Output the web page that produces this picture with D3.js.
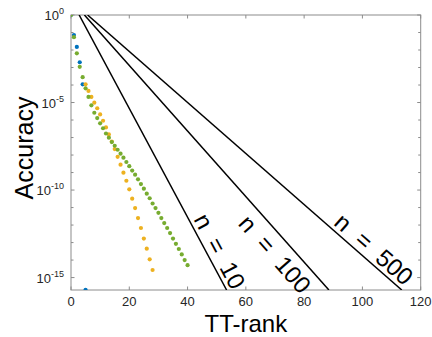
<!DOCTYPE html>
<html>
<head>
<meta charset="utf-8">
<script src="https://cdn.jsdelivr.net/npm/d3@7"></script>
<style>
  body { margin: 0; background: #fff; }
  text { font-family: "Liberation Sans", Arial, sans-serif; }
</style>
</head>
<body>
<div class="chart"></div>
<script>
// measured points (rank, accuracy)
var ranksBlue = [0, 1, 2, 3, 4, 5];
var accBlue = [1, 7.1e-2, 1.5e-2, 2.0e-3, 1.1e-4, 2e-16];

var ranksOrange = [5, 6, 7, 8, 9, 10, 11, 12, 13, 14, 15, 16, 17, 18, 19, 20, 21, 22, 23, 24, 25, 26, 27, 28];
var accOrange = [1.1e-4, 4.6e-5, 2.1e-5, 9.8e-6, 4.7e-6, 2.1e-6, 9.1e-7, 3.8e-7, 1.5e-7, 5.9e-8,
                 2.2e-8, 7.9e-9, 2.8e-9, 9.8e-10, 3.4e-10, 1.1e-10, 3.2e-11, 9.3e-12, 2.5e-12, 6.8e-13,
                 1.7e-13, 4.5e-14, 1.1e-14, 2.7e-15];

var ranksGreen = [0, 1, 2, 3, 4, 5, 6, 7, 8, 9, 10, 11, 12, 13, 14, 15, 16, 17, 18, 19, 20,
                  21, 22, 23, 24, 25, 26, 27, 28, 29, 30, 31, 32, 33, 34, 35, 36, 37, 38, 39, 40];
var accGreen = [1, 5.4e-2, 6.5e-3, 1.1e-3, 2.8e-4, 6.5e-5, 2.1e-5, 6.9e-6, 2.6e-6, 1.3e-6, 6.5e-7,
                3.4e-7, 1.7e-7, 9.8e-8, 5.5e-8, 3.4e-8, 2.0e-8, 1.2e-8, 7.1e-9, 4.0e-9, 2.3e-9,
                1.3e-9, 7.6e-10, 4.1e-10, 2.2e-10, 1.2e-10, 6.2e-11, 3.4e-11, 1.7e-11, 9.3e-12, 5.0e-12,
                2.5e-12, 1.3e-12, 6.8e-13, 3.5e-13, 1.7e-13, 8.5e-14, 4.3e-14, 2.1e-14, 1.0e-14, 5.1e-15];

// bound lines: rank where they leave 1 and rank where they hit the axis floor
var boundNames = ["10", "100", "500"];
var boundStart = [2.8, 4.6, 5.7];
var boundEnd = [53.4, 88.5, 113.5];
// label centre (rank, accuracy)
var boundLabelRank = [51.1, 70.0, 104.0];
var boundLabelAcc = [3.2e-14, 2.2e-14, 4.3e-14];

var xTicks = [0, 20, 40, 60, 80, 100, 120];
var yMajor = [0, -5, -10, -15];
var yMinor = [-1, -2, -3, -4, -6, -7, -8, -9, -11, -12, -13, -14];

var values = { width: 432, height: 337, left: 71, right: 420.7, top: 15, bottom: 290 };
var yFloor = 1.95e-16;

var x = d3.scaleLinear().domain([0, 120]).range([values.left, values.right]);
var y = d3.scaleLog().domain([yFloor, 1]).range([values.bottom, values.top]).clamp(true);

var svg = d3.select('.chart')
            .append('svg')
            .attr("width", values.width)
            .attr("height", values.height)
            .style("background", "#fff");

svg.append("defs").append("clipPath").attr("id", "plot")
   .append("rect")
   .attr("x", values.left).attr("y", values.top)
   .attr("width", values.right - values.left)
   .attr("height", values.bottom - values.top);

var axisColor = "#8c8c8c";
var textColor = "#262626";

// box
svg.append("rect")
   .attr("x", values.left).attr("y", values.top)
   .attr("width", values.right - values.left)
   .attr("height", values.bottom - values.top)
   .attr("fill", "none")
   .attr("stroke", axisColor)
   .attr("stroke-width", 1);

// x ticks (bottom + top, inward)
xTicks.forEach(function (t) {
  svg.append("line").attr("x1", x(t)).attr("x2", x(t))
     .attr("y1", values.bottom).attr("y2", values.bottom - 3.5)
     .attr("stroke", axisColor);
  svg.append("line").attr("x1", x(t)).attr("x2", x(t))
     .attr("y1", values.top).attr("y2", values.top + 3.5)
     .attr("stroke", axisColor);
  svg.append("text")
     .attr("x", x(t)).attr("y", values.bottom + 16)
     .attr("text-anchor", "middle")
     .attr("font-size", 13)
     .attr("fill", textColor)
     .text(t);
});

// y ticks
function yTick(e, len) {
  var yy = y(Math.pow(10, e));
  svg.append("line").attr("x1", values.left).attr("x2", values.left + len)
     .attr("y1", yy).attr("y2", yy).attr("stroke", axisColor);
  svg.append("line").attr("x1", values.right).attr("x2", values.right - len)
     .attr("y1", yy).attr("y2", yy).attr("stroke", axisColor);
}
yMinor.forEach(function (e) { yTick(e, 2.5); });
yMajor.forEach(function (e) {
  yTick(e, 3.5);
  var lab = svg.append("text")
     .attr("x", values.left - 7).attr("y", y(Math.pow(10, e)) + 5)
     .attr("text-anchor", "end")
     .attr("font-size", 13)
     .attr("fill", textColor);
  lab.append("tspan").text("10");
  lab.append("tspan").attr("dy", -6).attr("font-size", 9).text(e === 0 ? "0" : "-" + (-e));
});

// axis titles
svg.append("text")
   .attr("x", (values.left + values.right) / 2).attr("y", values.bottom + 41.5)
   .attr("text-anchor", "middle")
   .attr("font-size", 24)
   .attr("fill", "#000")
   .text("TT-rank");

svg.append("text")
   .attr("transform", "translate(33,148) rotate(-90)")
   .attr("text-anchor", "middle")
   .attr("font-size", 25)
   .attr("fill", "#000")
   .text("Accuracy");

var plot = svg.append("g").attr("clip-path", "url(#plot)");

// bound lines
boundNames.forEach(function (n, i) {
  var x1 = x(boundStart[i]), y1 = y(1), x2 = x(boundEnd[i]), y2 = y(yFloor);
  plot.append("line")
      .attr("x1", x1).attr("y1", y1).attr("x2", x2).attr("y2", y2)
      .attr("stroke", "#000")
      .attr("stroke-width", 1.5);
  var ang = Math.atan2(y2 - y1, x2 - x1) * 180 / Math.PI;
  svg.append("text")
     .attr("transform", "translate(" + x(boundLabelRank[i]) + "," + y(boundLabelAcc[i]) + ") rotate(" + ang + ")")
     .attr("text-anchor", "middle")
     .attr("dominant-baseline", "central")
     .attr("font-size", 24)
     .attr("word-spacing", "7px")
     .attr("fill", "#000")
     .text("n = " + n);
});

// dots
function dots(ranks, acc, color) {
  plot.selectAll(null)
      .data(ranks.map(function (r, i) { return { x: r, y: acc[i] }; }))
      .enter()
      .append("circle")
      .attr("cx", function (d) { return x(d.x); })
      .attr("cy", function (d) { return y(d.y); })
      .attr("r", 2.1)
      .style("fill", color);
}
dots(ranksBlue, accBlue, "#0072BD");
dots(ranksOrange, accOrange, "#EDB120");
dots(ranksGreen, accGreen, "#77AC30");
</script>
</body>
</html>
